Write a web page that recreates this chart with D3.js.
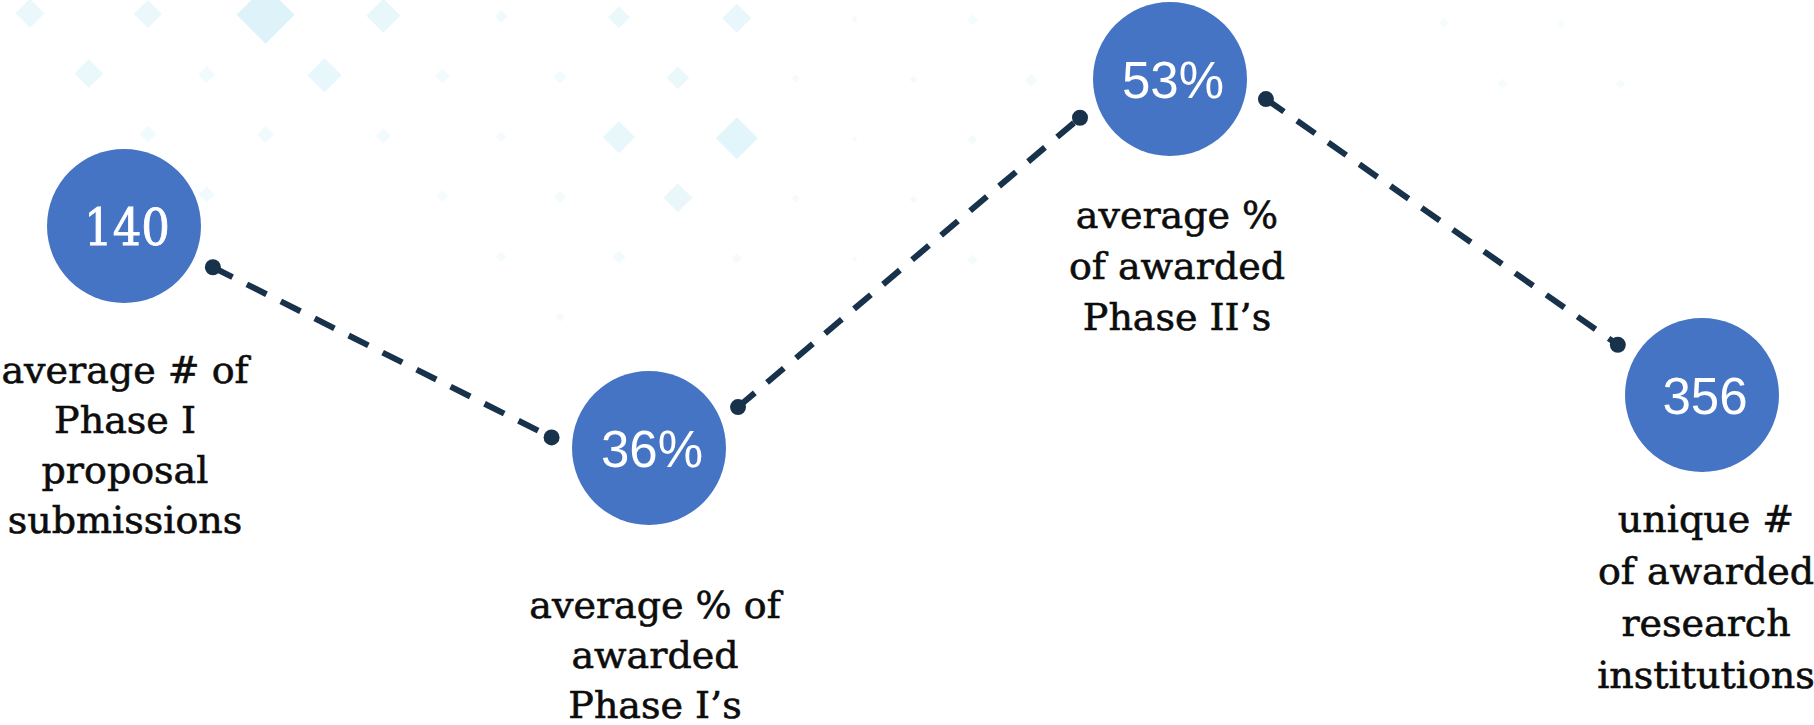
<!DOCTYPE html>
<html>
<head>
<meta charset="utf-8">
<script src="https://cdn.jsdelivr.net/npm/d3@7.9.0/dist/d3.min.js"></script>
<style>
  body { margin: 0; background: #fff; }
  svg { display: block; }
</style>
</head>
<body>
<svg id="chart" width="1814" height="725"></svg>
<script>
// metrics shown, left to right
const metrics = ['submissions', 'phase1Awards', 'phase2Awards', 'institutions'];
const values = ['140', '36%', '53%', '356'];
const labels = [
  ['average # of', 'Phase I', 'proposal', 'submissions'],
  ['average % of', 'awarded', 'Phase I\u2019s'],
  ['average %', 'of awarded', 'Phase II\u2019s'],
  ['unique #', 'of awarded', 'research', 'institutions']
];

// background diamond pattern: [grid column, grid row, half size, strength]
const diamonds = [
  [0,0,14.5,.6],[2,0,14,.6],[4,0,29,1],[6,0,17,.7],[8,0,6.5,.45],[10,0,11,.6],[12,0,14.5,.7],
  [14,0,3,.35],[16,0,5.5,.35],[24,0,5,.25],[26,0,5,.25],
  [1,1,14.5,.6],[3,1,8.5,.4],[5,1,17,.7],[7,1,7.5,.4],[9,1,6.5,.4],[11,1,11.5,.6],
  [13,1,4,.3],[15,1,4,.3],[17,1,6.5,.35],[25,1,5,.25],[27,1,5,.25],
  [2,2,8.5,.4],[4,2,8.5,.4],[6,2,7.5,.4],[8,2,5.5,.3],[10,2,16,.7],[12,2,21,.85],[14,2,3,.3],[16,2,5,.3],
  [3,3,8,.4],[7,3,6,.35],[9,3,6,.35],[11,3,14.5,.65],[13,3,4,.3],[15,3,4,.3],
  [8,4,5.5,.3],[10,4,6.5,.4],[12,4,5,.3],[14,4,3,.3],[16,4,5.5,.3],
  [9,5,5,.3]
];

const svg = d3.select('#chart');

// layout of the infographic (no quantitative axis, points are placed by hand)
const x = d3.scaleOrdinal().domain(metrics).range([124, 649, 1170, 1702]);
const y = d3.scaleOrdinal().domain(metrics).range([226, 448, 79, 395]);
const labelDx = d3.scaleOrdinal().domain(metrics).range([1, 6, 7, 4]);
const labelTop = d3.scaleOrdinal().domain(metrics).range([383, 618, 228, 532]);
const lineGap = d3.scaleOrdinal().domain(metrics).range([50, 50, 51, 52]);

const gridX = d3.scaleLinear().domain([0, 1]).range([30, 88.9]);
const gridY = d3.scaleLinear().domain([0, 1]).range([13, 73]);

const radius = 77;

// background diamonds
svg.append('g')
  .selectAll('path')
  .data(diamonds)
  .join('path')
  .attr('d', ([c, r, h]) => {
    const cx = gridX(c), cy = gridY(r) + cx * 0.007;
    return `M${cx},${cy - h}L${cx + h},${cy}L${cx},${cy + h}L${cx - h},${cy}Z`;
  })
  .attr('fill', '#ddf3f9')
  .attr('opacity', d => d[3]);

// connectors: angle where each leaves / arrives at a circle (degrees)
const links = d3.pairs(metrics);
const exitAngle = [24.9, -24.7, 11.8];
const entryAngle = [186.2, 156.7, 210.8];
const dotDist = 98;

const pt = (m, deg) => {
  const a = deg * Math.PI / 180;
  return [x(m) + dotDist * Math.cos(a), y(m) + dotDist * Math.sin(a)];
};

const conn = svg.append('g');
links.forEach(([a, b], i) => {
  const p0 = pt(a, exitAngle[i]);
  const p1 = pt(b, entryAngle[i]);
  conn.append('path')
    .attr('d', d3.line()([p0, p1]))
    .attr('stroke', '#17324a')
    .attr('stroke-width', 6)
    .attr('stroke-dasharray', '22,16')
    .attr('fill', 'none');
  [p0, p1].forEach(p => {
    conn.append('circle')
      .attr('cx', p[0]).attr('cy', p[1]).attr('r', 8)
      .attr('fill', '#17324a');
  });
});

// bubbles
const nodes = svg.append('g')
  .selectAll('g')
  .data(metrics)
  .join('g');

nodes.append('circle')
  .attr('cx', d => x(d))
  .attr('cy', d => y(d))
  .attr('r', radius)
  .attr('fill', '#4574c4');

nodes.append('text')
  .attr('x', d => x(d) + 3)
  .attr('y', d => y(d) + 18.5)
  .attr('text-anchor', 'middle')
  .attr('fill', '#fff')
  .attr('stroke', (d, i) => i === 0 ? '#fff' : 'none')
  .attr('stroke-width', 0.8)
  .style('font-family', (d, i) => i === 0 ? '"DejaVu Serif Condensed", "DejaVu Serif", serif' : '"Liberation Sans", Arial, sans-serif')
  .style('font-size', (d, i) => i === 0 ? '50px' : '51px')
  .text((d, i) => values[i]);

// captions
nodes.append('text')
  .attr('text-anchor', 'middle')
  .attr('fill', '#0d0d0d')
  .attr('stroke', '#0d0d0d')
  .attr('stroke-width', 0.6)
  .style('font-family', '"DejaVu Serif", serif')
  .style('font-size', '38px')
  .each(function (d, i) {
    d3.select(this).selectAll('tspan')
      .data(labels[i])
      .join('tspan')
      .attr('x', x(d) + labelDx(d))
      .attr('y', (t, j) => labelTop(d) + j * lineGap(d))
      .text(t => t);
  });
</script>
</body>
</html>
